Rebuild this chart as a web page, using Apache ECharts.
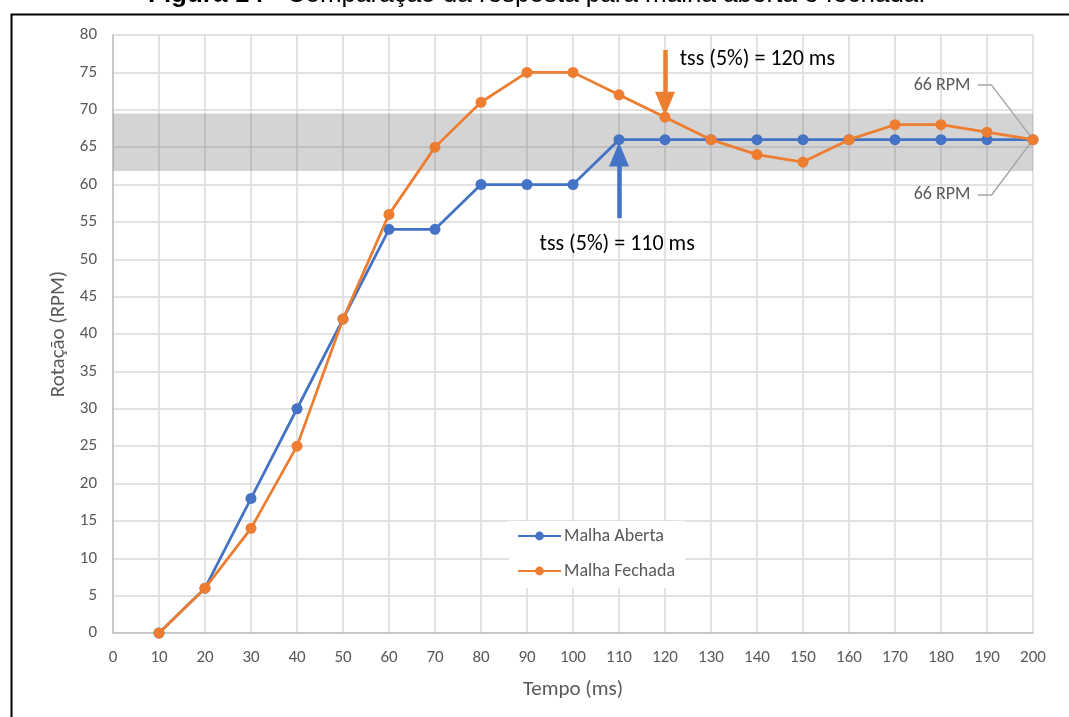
<!DOCTYPE html>
<html>
<head>
<meta charset="utf-8">
<script src="https://cdn.jsdelivr.net/npm/echarts@6/dist/echarts.min.js"></script>
<style>
  html, body { margin: 0; padding: 0; background: #fff; }
  #chart { width: 1069px; height: 717px; }
</style>
</head>
<body>
<div id="chart"></div>
<script>
// Tempo (ms) and rotation readings for both control configurations
const tempo = [10, 20, 30, 40, 50, 60, 70, 80, 90, 100, 110, 120, 130, 140, 150, 160, 170, 180, 190, 200];
const malhaAberta = [0, 6, 18, 30, 42, 54, 54, 60, 60, 60, 66, 66, 66, 66, 66, 66, 66, 66, 66, 66];
const malhaFechada = [0, 6, 14, 25, 42, 56, 65, 71, 75, 75, 72, 69, 66, 64, 63, 66, 68, 68, 67, 66];

// Settling band and annotations
const faixaAcomodacao = [61.8, 69.5];
const tssFechada = 120;
const tssAberta = 110;
const rpmFinal = 66;

const fontFam = 'Carlito, "Liberation Sans Narrow", "Open Sans", sans-serif';
const grayText = '#595959';
const blue = '#4472C4';
const orange = '#ED7D31';

const pairs = (xs, ys) => xs.map((x, i) => [x, ys[i]]);

const chart = echarts.init(document.getElementById('chart'), null, { renderer: 'canvas' });

chart.setOption({
  animation: false,
  backgroundColor: '#fff',
  textStyle: { fontFamily: fontFam },
  grid: { left: 113, right: 36, top: 35, bottom: 84, containLabel: false },
  legend: {
    data: ['Malha Aberta', 'Malha Fechada'],
    orient: 'vertical',
    left: 509,
    top: 521,
    backgroundColor: '#fff',
    padding: [6, 10, 8, 8],
    itemWidth: 43,
    itemHeight: 11,
    itemGap: 17,
    textStyle: { color: grayText, fontSize: 18, fontFamily: fontFam, padding: [0, 0, 0, -2] }
  },
  xAxis: {
    type: 'value',
    min: 0, max: 200, interval: 10,
    name: 'Tempo (ms)',
    nameLocation: 'middle',
    nameGap: 46,
    nameTextStyle: { color: grayText, fontSize: 21, fontFamily: fontFam },
    axisLine: { show: true, lineStyle: { color: '#bfbfbf', width: 1.5 } },
    axisTick: { show: false },
    axisLabel: { color: grayText, fontSize: 17, margin: 16, fontFamily: fontFam },
    splitLine: { show: true, lineStyle: { color: '#d9d9d9', width: 1.5 } }
  },
  yAxis: {
    type: 'value',
    min: 0, max: 80, interval: 5,
    name: 'Rotação (RPM)',
    nameLocation: 'middle',
    nameGap: 42,
    nameTextStyle: { color: grayText, fontSize: 21, fontFamily: fontFam },
    axisLine: { show: true, lineStyle: { color: '#bfbfbf', width: 1.5 } },
    axisTick: { show: false },
    axisLabel: { color: grayText, fontSize: 17, margin: 16, fontFamily: fontFam },
    splitLine: { show: true, lineStyle: { color: '#d9d9d9', width: 1.5 } }
  },
  series: [
    {
      name: 'Malha Aberta',
      type: 'line',
      data: pairs(tempo, malhaAberta),
      symbol: 'circle',
      symbolSize: 11,
      itemStyle: { color: blue },
      lineStyle: { color: blue, width: 2.75 },
      z: 3,
      markArea: {
        silent: true,
        itemStyle: { color: 'rgba(120,120,120,0.32)' },
        data: [[{ xAxis: 0, yAxis: faixaAcomodacao[0] }, { xAxis: 200, yAxis: faixaAcomodacao[1] }]]
      },
      markLine: {
        silent: true,
        symbol: ['none', 'triangle'],
        symbolSize: [20, 24],
        lineStyle: { color: blue, width: 4.5, type: 'solid' },
        label: { show: false },
        data: [[{ coord: [tssAberta, 55.5] }, { coord: [tssAberta, 64.0] }]]
      },
      markPoint: {
        silent: true,
        symbol: 'circle',
        symbolSize: 0,
        label: {
          show: true, position: 'inside', color: '#000', fontSize: 22, fontFamily: fontFam,
          formatter: 'tss (5%) = ' + tssAberta + ' ms'
        },
        data: [{ coord: [109.6, 52.0] }]
      }
    },
    {
      name: 'Malha Fechada',
      type: 'line',
      data: pairs(tempo, malhaFechada),
      symbol: 'circle',
      symbolSize: 11,
      itemStyle: { color: orange },
      lineStyle: { color: orange, width: 2.75 },
      z: 4,
      markLine: {
        silent: true,
        symbol: ['none', 'triangle'],
        symbolSize: [20, 24],
        lineStyle: { color: orange, width: 4.5, type: 'solid' },
        label: { show: false },
        data: [[{ coord: [tssFechada, 78.0] }, { coord: [tssFechada, 70.8] }]]
      },
      markPoint: {
        silent: true,
        symbol: 'circle',
        symbolSize: 0,
        label: {
          show: true, position: 'right', distance: 0, color: '#000', fontSize: 22, fontFamily: fontFam,
          formatter: 'tss (5%) = ' + tssFechada + ' ms'
        },
        data: [{ coord: [123.2, 76.7] }]
      }
    },
    {
      // leader lines for the final-speed callouts
      type: 'line',
      data: [[188.0, 73.3], [191.0, 73.3], [200, rpmFinal]],
      symbol: 'none',
      lineStyle: { color: '#a6a6a6', width: 1.5 },
      silent: true,
      z: 2,
      markPoint: {
        silent: true,
        symbol: 'circle',
        symbolSize: 0,
        label: {
          show: true, position: 'left', distance: 0, color: grayText, fontSize: 18, fontFamily: fontFam,
          formatter: rpmFinal + ' RPM'
        },
        data: [{ coord: [186.4, 73.3] }]
      }
    },
    {
      type: 'line',
      data: [[188.0, 58.6], [191.0, 58.6], [200, rpmFinal]],
      symbol: 'none',
      lineStyle: { color: '#a6a6a6', width: 1.5 },
      silent: true,
      z: 2,
      markPoint: {
        silent: true,
        symbol: 'circle',
        symbolSize: 0,
        label: {
          show: true, position: 'left', distance: 0, color: grayText, fontSize: 18, fontFamily: fontFam,
          formatter: rpmFinal + ' RPM'
        },
        data: [{ coord: [186.4, 58.6] }]
      }
    }
  ],
  graphic: [
    {
      type: 'rect',
      left: 9, top: 12,
      shape: { width: 1100, height: 800 },
      style: { fill: 'none', stroke: '#000', lineWidth: 2 },
      silent: true,
      z: 100
    },
    {
      type: 'text',
      x: 148, y: -5,
      style: {
        text: '{b|Figura 14} - Comparação da resposta para malha aberta e fechada.',
        fill: '#000',
        font: '26px "Liberation Sans", Arial, sans-serif',
        verticalAlign: 'middle',
        rich: {
          b: { fontWeight: 'bold', fontSize: 26, fontFamily: '"Liberation Sans", Arial, sans-serif', fill: '#000' }
        }
      },
      silent: true,
      z: 100
    }
  ]
});
</script>
</body>
</html>
